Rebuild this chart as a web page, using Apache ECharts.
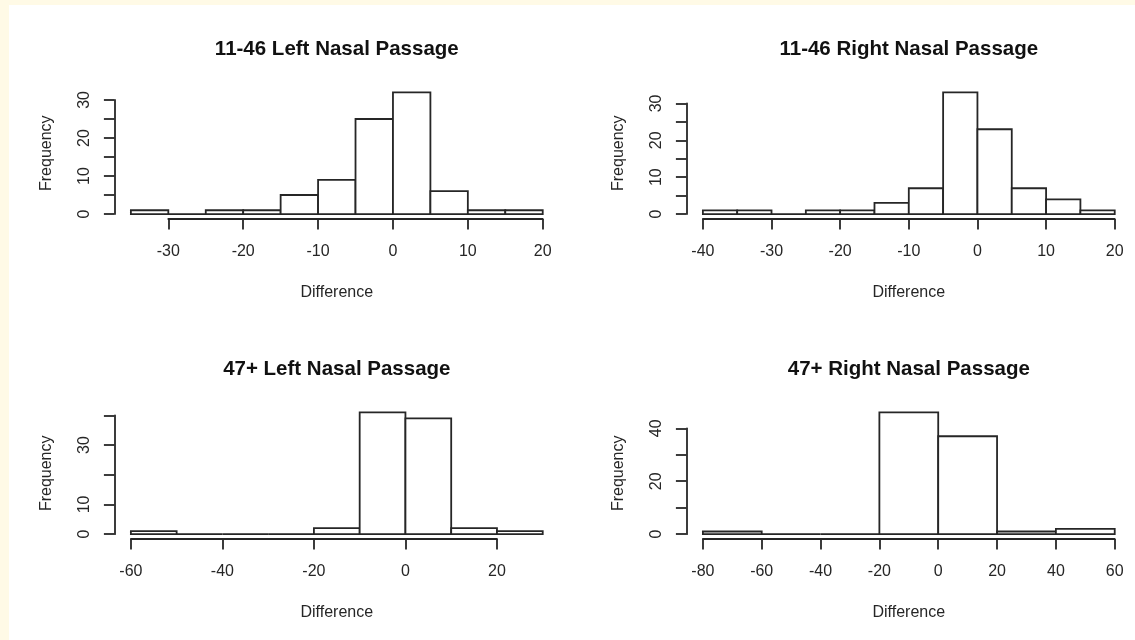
<!DOCTYPE html>
<html><head><meta charset="utf-8">
<script src="https://cdn.jsdelivr.net/npm/echarts@6/dist/echarts.min.js"></script>
<style>
html,body{margin:0;padding:0;background:#fffae6;width:1135px;height:640px;overflow:hidden;}
#c{position:absolute;left:9px;top:5px;width:1126px;height:635px;background:#ffffff;}
</style></head><body><div id="c"></div>
<script>
// ---- data ----
const titles = ["11-46 Left Nasal Passage", "11-46 Right Nasal Passage", "47+ Left Nasal Passage", "47+ Right Nasal Passage"];
const youngLeftBreaks = [-35, -30, -25, -20, -15, -10, -5, 0, 5, 10, 15, 20];
const youngLeftCounts = [1, 0, 1, 1, 5, 9, 25, 32, 6, 1, 1];
const youngRightBreaks = [-40, -35, -30, -25, -20, -15, -10, -5, 0, 5, 10, 15, 20];
const youngRightCounts = [1, 1, 0, 1, 1, 3, 7, 33, 23, 7, 4, 1];
const oldLeftBreaks = [-60, -50, -40, -30, -20, -10, 0, 10, 20, 30];
const oldLeftCounts = [1, 0, 0, 0, 2, 41, 39, 2, 1];
const oldRightBreaks = [-80, -60, -40, -20, 0, 20, 40, 60];
const oldRightCounts = [1, 0, 0, 46, 37, 1, 2];

const youngLeftXTicks = [-30, -20, -10, 0, 10, 20];
const youngRightXTicks = [-40, -30, -20, -10, 0, 10, 20];
const oldLeftXTicks = [-60, -40, -20, 0, 20];
const oldRightXTicks = [-80, -60, -40, -20, 0, 20, 40, 60];

const youngYTicks = [0, 5, 10, 15, 20, 25, 30];
const youngYLabels = [0, 10, 20, 30];
const oldYTicks = [0, 10, 20, 30, 40];
const oldLeftYLabels = [0, 10, 30];
const oldRightYLabels = [0, 20, 40];

const xName = "Difference";
const yName = "Frequency";

// ---- layout ----
const PLOT_W = 444.8, PLOT_H = 131.4;
const PLOT_LEFTS = [105.4, 677.4];
const PLOT_TOPS = [82.5, 402.6];
const FONT = "'Liberation Sans', Arial, sans-serif";
const INK = '#262626';
const LW = 1.8;

const panels = [
  {title: titles[0], breaks: youngLeftBreaks, counts: youngLeftCounts, xTicks: youngLeftXTicks, yTicks: youngYTicks, yLabels: youngYLabels, col: 0, row: 0},
  {title: titles[1], breaks: youngRightBreaks, counts: youngRightCounts, xTicks: youngRightXTicks, yTicks: youngYTicks, yLabels: youngYLabels, col: 1, row: 0},
  {title: titles[2], breaks: oldLeftBreaks, counts: oldLeftCounts, xTicks: oldLeftXTicks, yTicks: oldYTicks, yLabels: oldLeftYLabels, col: 0, row: 1},
  {title: titles[3], breaks: oldRightBreaks, counts: oldRightCounts, xTicks: oldRightXTicks, yTicks: oldYTicks, yLabels: oldRightYLabels, col: 1, row: 1}
];

const grid = [], xAxis = [], yAxis = [], series = [], title = [];

panels.forEach((p) => {
  const L = PLOT_LEFTS[p.col], T = PLOT_TOPS[p.row], W = PLOT_W, H = PLOT_H;
  const xLo = p.breaks[0], xHi = p.breaks[p.breaks.length - 1];
  const xPad = 0.04 * (xHi - xLo);
  const xMin = xLo - xPad, xMax = xHi + xPad;
  const M = Math.max.apply(null, p.counts);
  const yMin = -0.04 * M, yMax = 1.04 * M;
  const px = v => L + (v - xMin) / (xMax - xMin) * W;
  const py = v => T + H - (v - yMin) / (yMax - yMin) * H;

  // main plot grid
  const gMain = grid.length;
  grid.push({left: L, top: T, width: W, height: H, containLabel: false});
  const xMainIdx = xAxis.length;
  xAxis.push({
    gridIndex: gMain, type: 'value', min: xMin, max: xMax,
    axisLine: {show: false}, axisTick: {show: false}, axisLabel: {show: false}, splitLine: {show: false},
    name: xName, nameLocation: 'middle', nameGap: 66,
    nameTextStyle: {fontFamily: FONT, fontSize: 16, color: INK}
  });
  const yMainIdx = yAxis.length;
  yAxis.push({
    gridIndex: gMain, type: 'value', min: yMin, max: yMax,
    axisLine: {show: false}, axisTick: {show: false}, axisLabel: {show: false}, splitLine: {show: false},
    name: yName, nameLocation: 'middle', nameGap: 60, nameRotate: 90,
    nameTextStyle: {fontFamily: FONT, fontSize: 16, color: INK}
  });
  series.push({
    type: 'custom', xAxisIndex: xMainIdx, yAxisIndex: yMainIdx, clip: false,
    data: p.counts.map((c, i) => [p.breaks[i], p.breaks[i + 1], c]),
    encode: {x: [0, 1], y: 2},
    renderItem: function (params, api) {
      const a = api.coord([api.value(0), 0]);
      const b = api.coord([api.value(1), api.value(2)]);
      return {
        type: 'rect',
        shape: {x: a[0], y: b[1], width: b[0] - a[0], height: a[1] - b[1]},
        style: {fill: '#ffffff', stroke: INK, lineWidth: LW}
      };
    }
  });

  // x axis (spans first..last tick, like R)
  const xt = p.xTicks;
  const gx = grid.length;
  grid.push({left: px(xt[0]), width: px(xt[xt.length - 1]) - px(xt[0]), top: T + H - 1, height: 1});
  xAxis.push({
    gridIndex: gx, type: 'value', position: 'bottom',
    min: xt[0], max: xt[xt.length - 1], interval: xt[1] - xt[0],
    axisLine: {show: true, lineStyle: {color: INK, width: LW}},
    axisTick: {show: true, inside: false, length: 10.5, lineStyle: {color: INK, width: LW}},
    axisLabel: {show: true, margin: 25, fontFamily: FONT, fontSize: 16, color: INK, showMinLabel: true, showMaxLabel: true},
    splitLine: {show: false}
  });
  yAxis.push({gridIndex: gx, type: 'value', show: false});

  // y axis (spans 0..last tick)
  const yt = p.yTicks;
  const gy = grid.length;
  grid.push({left: L, width: 1, top: py(yt[yt.length - 1]), height: py(yt[0]) - py(yt[yt.length - 1])});
  xAxis.push({gridIndex: gy, type: 'value', show: false});
  const labs = p.yLabels;
  yAxis.push({
    gridIndex: gy, type: 'value', position: 'left',
    min: yt[0], max: yt[yt.length - 1], interval: yt[1] - yt[0],
    axisLine: {show: true, lineStyle: {color: INK, width: LW}},
    axisTick: {show: true, inside: false, length: 10.5, lineStyle: {color: INK, width: LW}},
    axisLabel: {show: true, rotate: 90, margin: 22, fontFamily: FONT, fontSize: 16, color: INK,
      showMinLabel: true, showMaxLabel: true,
      formatter: v => (labs.indexOf(v) >= 0 ? String(v) : '')},
    splitLine: {show: false}
  });

  title.push({
    text: p.title, left: L + W / 2, top: T - 49, textAlign: 'center', padding: 0,
    textStyle: {fontFamily: FONT, fontSize: 20.5, fontWeight: 'bold', color: '#111'}
  });
});

const chart = echarts.init(document.getElementById('c'), null, {renderer: 'canvas'});
chart.setOption({animation: false, backgroundColor: '#ffffff', title, grid, xAxis, yAxis, series});
</script></body></html>
